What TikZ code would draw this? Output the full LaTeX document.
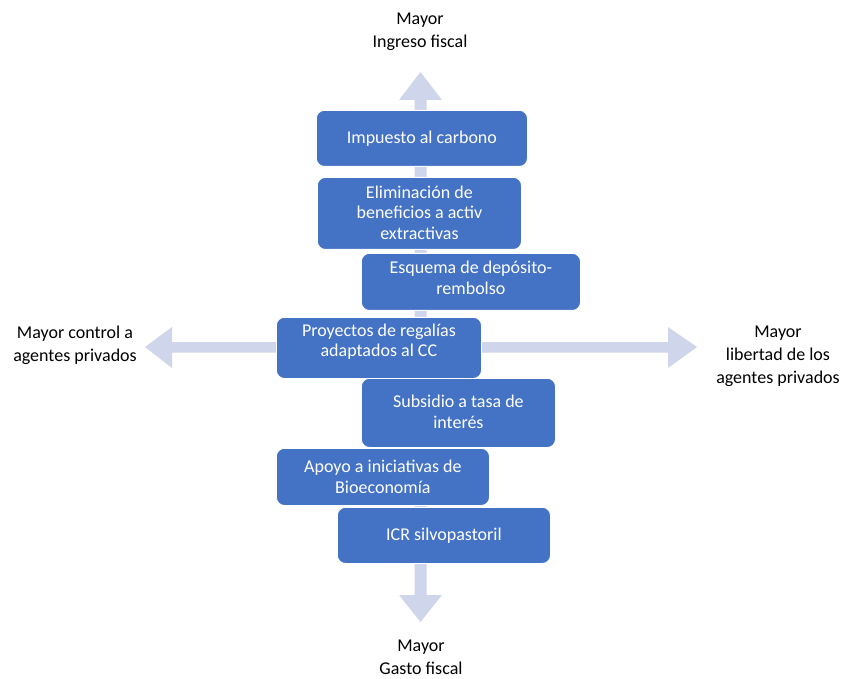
\documentclass[tikz,border=0pt]{standalone}
\usepackage{fontspec}
\setmainfont{Carlito}
\definecolor{boxblue}{HTML}{4472C4}
\definecolor{axisgrey}{HTML}{CFD5EA}

\begin{document}
\begin{tikzpicture}[x=1pt,y=-1pt,
  policy/.style={draw=white, line width=0.8pt, fill=boxblue, rounded corners=8pt,
                 inner sep=0pt, anchor=north west},
  boxtext/.style={text=white, align=center, inner sep=0pt,
                  font=\fontsize{18}{20.5}\selectfont},
  axislabel/.style={text=black, align=center, inner sep=0pt,
                    font=\fontsize{18}{23}\selectfont},
  axisfill/.style={fill=axisgrey, draw=none}]

% canvas
\fill[white] (0,0) rectangle (844,679);
\useasboundingbox (0,0) rectangle (844,679);

% axis tips
\coordinate (uptip) at (420.5,72);
\coordinate (downtip) at (420.5,622);
\coordinate (lefttip) at (145,347);
\coordinate (righttip) at (697,347);

% vertical double arrow
\fill[axisfill] (uptip) -- (442,100) -- (426.5,100) -- (426.5,595) -- (442,595)
  -- (downtip) -- (399,595) -- (414.5,595) -- (414.5,100) -- (399,100) -- cycle;
% horizontal double arrow
\fill[axisfill] (lefttip) -- (172,327) -- (172,342) -- (668,342) -- (668,327)
  -- (righttip) -- (668,368) -- (668,352.5) -- (172,352.5) -- (172,368) -- cycle;

% policy boxes
\node[policy, minimum width=211pt, minimum height=56pt] (b1) at (316,110) {};
\node[policy, minimum width=204pt, minimum height=72pt] (b2) at (317,177) {};
\node[policy, minimum width=219pt, minimum height=57pt] (b3) at (361,253) {};
\node[policy, minimum width=205pt, minimum height=61pt] (b4) at (276,317) {};
\node[policy, minimum width=194pt, minimum height=69pt] (b5) at (361,378) {};
\node[policy, minimum width=213pt, minimum height=57pt] (b6) at (276,448) {};
\node[policy, minimum width=213pt, minimum height=56pt] (b7) at (337,507) {};

% box texts
\node[boxtext] (t1) at (b1.center) {Impuesto al carbono};
\node[boxtext] (t2) at ([yshift=1pt]b2.center) {Eliminación de\\beneficios a activ\\extractivas};
\node[boxtext] (t3) at ([yshift=4pt]b3.center) {Esquema de depósito-\\rembolso};
\node[boxtext] (t4) at ([yshift=6pt]b4.center) {Proyectos de regalías\\adaptados al CC};
\node[boxtext] (t5) at ([yshift=1pt]b5.center) {Subsidio a tasa de\\interés};
\node[boxtext] (t6) at (b6.center) {Apoyo a iniciativas de\\Bioeconomía};
\node[boxtext] (t7) at (b7.center) {ICR silvopastoril};

% axis labels
\node[axislabel] (toplab) at (420,31.5) {Mayor\\Ingreso fiscal};
\node[axislabel] (leftlab) at (75,345) {Mayor control a\\agentes privados};
\node[axislabel] (rightlab) at (778,356.5) {Mayor\\libertad de los\\agentes privados};
\node[axislabel] (botlab) at (421,657) {Mayor\\Gasto fiscal};
\end{tikzpicture}
\end{document}
